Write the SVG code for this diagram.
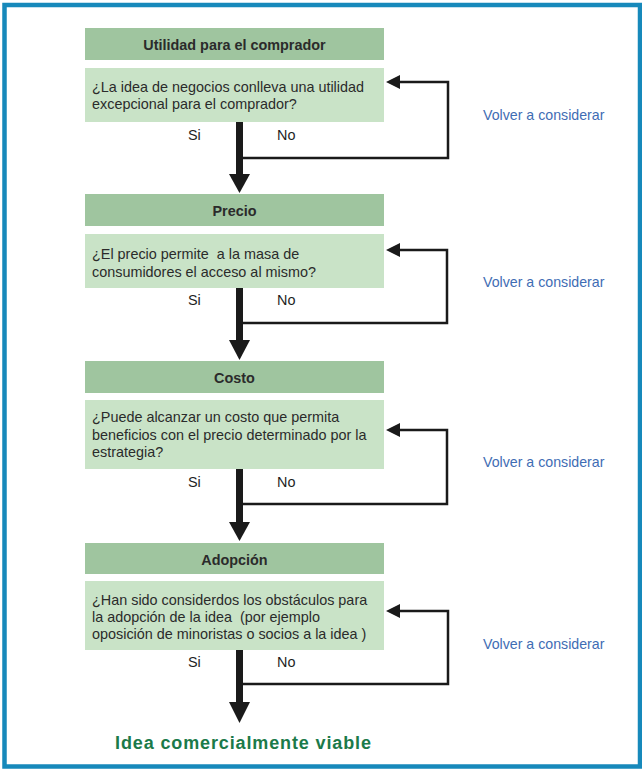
<svg xmlns="http://www.w3.org/2000/svg" width="642" height="769" viewBox="0 0 642 769">
<defs>
<style>
.frame{fill:#ffffff;stroke:#1789bb;stroke-width:4.5}
.hdr{fill:#9fc59f}
.q{fill:#c9e3c7}
.ht{font-family:"Liberation Sans",Arial,sans-serif;font-size:14.4px;font-weight:bold;fill:#2b2b2b;text-anchor:middle}
.qt{font-family:"Liberation Sans",Arial,sans-serif;font-size:14.4px;fill:#2b2b2b;white-space:pre}
.yn{font-family:"Liberation Sans",Arial,sans-serif;font-size:14.4px;fill:#1e1e1e}
.vt{font-family:"Liberation Sans",Arial,sans-serif;font-size:14.2px;fill:#3f6db4}
.fin{font-family:"Liberation Sans",Arial,sans-serif;font-size:18px;font-weight:bold;fill:#1b7a4a}
.shaft{fill:#1a1a1a}
.loop{fill:none;stroke:#1a1a1a;stroke-width:2.5}
.head{fill:#1a1a1a}
</style>
</defs>
<rect class="frame" x="4.5" y="5" width="635.5" height="761.5"/>

<g id="node-utilidad">
<rect class="hdr" x="85" y="28" width="299" height="32"/>
<text class="ht" x="234.5" y="50">Utilidad para el comprador</text>
</g>
<g id="node-q1">
<rect class="q" x="85" y="68" width="299" height="54"/>
<text class="qt" x="92" y="92">¿La idea de negocios conlleva una utilidad</text>
<text class="qt" x="92" y="109">excepcional para el comprador?</text>
</g>

<g id="node-precio">
<rect class="hdr" x="85" y="194" width="299" height="32"/>
<text class="ht" x="234.5" y="216">Precio</text>
</g>
<g id="node-q2">
<rect class="q" x="85" y="234" width="299" height="54"/>
<text class="qt" x="92" y="259" xml:space="preserve">¿El precio permite  a la masa de</text>
<text class="qt" x="92" y="277">consumidores el acceso al mismo?</text>
</g>

<g id="node-costo">
<rect class="hdr" x="85" y="361" width="299" height="32"/>
<text class="ht" x="234.5" y="383">Costo</text>
</g>
<g id="node-q3">
<rect class="q" x="85" y="400" width="299" height="69"/>
<text class="qt" x="92" y="422">¿Puede alcanzar un costo que permita</text>
<text class="qt" x="92" y="439.5">beneficios con el precio determinado por la</text>
<text class="qt" x="92" y="456.5">estrategia?</text>
</g>

<g id="node-adopcion">
<rect class="hdr" x="85" y="543" width="299" height="31"/>
<text class="ht" x="234.5" y="565">Adopción</text>
</g>
<g id="node-q4">
<rect class="q" x="85" y="581" width="299" height="69"/>
<text class="qt" x="92" y="604.5">¿Han sido considerdos los obstáculos para</text>
<text class="qt" x="92" y="621.5" xml:space="preserve">la adopción de la idea  (por ejemplo</text>
<text class="qt" x="92" y="638.5">oposición de minoristas o socios a la idea )</text>
</g>

<g id="node-final">
<text class="fin" x="115" y="749" textLength="256" lengthAdjust="spacing">Idea comercialmente viable</text>
</g>

<g id="connectors">
<rect class="shaft" x="236" y="122" width="7" height="54"/>
<polygon class="head" points="229,174 250,174 239.5,193"/>
<polyline class="loop" points="243,158 448,158 448,82 398,82"/>
<polygon class="head" points="386,82 400,75 400,89"/>

<rect class="shaft" x="236" y="288" width="7" height="54"/>
<polygon class="head" points="229,340 250,340 239.5,360"/>
<polyline class="loop" points="243,323 447,323 447,250 398,250"/>
<polygon class="head" points="386,250 400,243 400,257"/>

<rect class="shaft" x="236" y="469" width="7" height="55"/>
<polygon class="head" points="229,522 250,522 239.5,541"/>
<polyline class="loop" points="243,504 447,504 447,430 398,430"/>
<polygon class="head" points="386,430 400,423 400,437"/>

<rect class="shaft" x="236" y="650" width="7" height="54"/>
<polygon class="head" points="229,702 250,702 239.5,723"/>
<polyline class="loop" points="243,684 448,684 448,611 398,611"/>
<polygon class="head" points="386,611 400,604 400,618"/>
</g>

<g id="labels">
<text class="yn" x="188" y="140">Si</text>
<text class="yn" x="277" y="140">No</text>
<text class="vt" x="483" y="120">Volver a considerar</text>
<text class="yn" x="188" y="305">Si</text>
<text class="yn" x="277" y="305">No</text>
<text class="vt" x="483" y="287">Volver a considerar</text>
<text class="yn" x="188" y="487">Si</text>
<text class="yn" x="277" y="487">No</text>
<text class="vt" x="483" y="467">Volver a considerar</text>
<text class="yn" x="188" y="667">Si</text>
<text class="yn" x="277" y="667">No</text>
<text class="vt" x="483" y="649">Volver a considerar</text>
</g>
</svg>
